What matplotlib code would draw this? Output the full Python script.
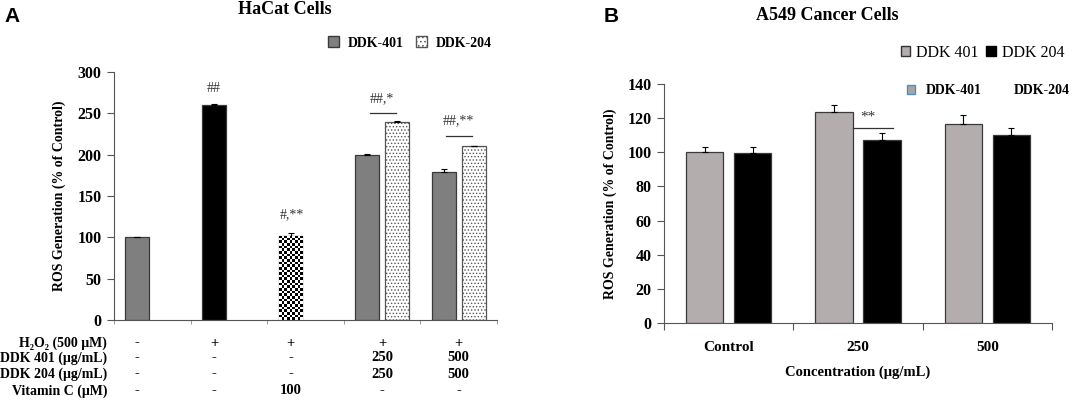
import numpy as np
import matplotlib
matplotlib.use("Agg")
import matplotlib.pyplot as plt
from matplotlib.patches import Patch

SERIF = ['Liberation Serif', 'DejaVu Serif']
plt.rcParams['font.family'] = SERIF
plt.rcParams['font.weight'] = 'bold'
plt.rcParams['hatch.linewidth'] = 0.6

# ---- Panel A data (HaCat cells) ----
single_names = ['Control', 'H2O2', 'Vitamin C']
single_vals = [100, 260, 102]
single_err = [0.6, 1.0, 3.0]
single_colors = ['#7f7f7f', '#000000', 'checker']

pair_names = ['250', '500']
ddk401_a = [200, 179]
ddk401_a_err = [1.0, 4.0]
ddk204_a = [240, 210]
ddk204_a_err = [1.0, 0.6]

row_labels = ['H\u2082O\u2082 (500 \u03bcM)', 'DDK 401 (\u03bcg/mL)',
              'DDK 204 (\u03bcg/mL)', 'Vitamin C (\u03bcM)']
row_values = [['-', '+', '+', '+', '+'],
              ['-', '-', '-', '250', '500'],
              ['-', '-', '-', '250', '500'],
              ['-', '-', '100', '-', '-']]

sig_a = ['##', '#,**', '##,*', '##,**']

# ---- Panel B data (A549 cells) ----
conc_b = ['Control', '250', '500']
ddk401_b = [100, 123.8, 116.4]
ddk401_b_err = [3.0, 4.0, 5.3]
ddk204_b = [99.6, 107.2, 110.3]
ddk204_b_err = [3.4, 4.3, 4.0]

W, H = 1072, 401
fig = plt.figure(figsize=(W / 100, H / 100), dpi=100)
axA = fig.add_axes([114 / W, 1 - 320 / H, 383 / W, 248 / H])
axB = fig.add_axes([664 / W, 1 - 323 / H, 388 / W, 239 / H])

edge = '#3a3a3a'
ekw = dict(ecolor='black', elinewidth=0.8, capsize=2.5, capthick=0.8)

# ---------- Panel A ----------
bw = 0.31
off = 0.195
xs_single = np.arange(len(single_vals)) + 0.5 - off
xs_pair = np.arange(len(pair_names)) + 3.5

axA.set_xlim(0, 5)
axA.set_ylim(0, 300)

checker_bar = None
for x, v, e, c in zip(xs_single, single_vals, single_err, single_colors):
    fc = 'white' if c == 'checker' else c
    b = axA.bar(x, v, bw, color=fc, edgecolor=edge, linewidth=0.9, zorder=2,
                yerr=[[0], [e]], error_kw=ekw)
    if c == 'checker':
        checker_bar = b.patches[0]

b401 = axA.bar(xs_pair - off, ddk401_a, bw, color='#7f7f7f', edgecolor=edge,
               linewidth=0.9, zorder=2, yerr=[[0] * 2, ddk401_a_err], error_kw=ekw)
b204 = axA.bar(xs_pair + off, ddk204_a, bw, color='white', edgecolor='#555555',
               hatch='.....', linewidth=0.9, zorder=2,
               yerr=[[0] * 2, ddk204_a_err], error_kw=ekw)

# checkerboard fill for the vitamin C bar
fig.canvas.draw()
bb = checker_bar.get_window_extent()
ncol = 9
nrow = int(round(bb.height / (bb.width / ncol)))
board = (np.indices((nrow, ncol)).sum(axis=0) % 2).astype(float)
x0, y0 = checker_bar.get_x(), checker_bar.get_y()
im = axA.imshow(board, cmap='gray', extent=[x0, x0 + checker_bar.get_width(),
                y0, y0 + checker_bar.get_height()], aspect='auto',
                interpolation='nearest', zorder=2.5)
im.set_clip_path(checker_bar)
axA.set_xlim(0, 5)
axA.set_ylim(0, 300)

for s in ['top', 'right']:
    axA.spines[s].set_visible(False)
for s in ['left', 'bottom']:
    axA.spines[s].set_color('#555555')
    axA.spines[s].set_linewidth(0.8)
axA.set_yticks(np.arange(0, 301, 50))
axA.tick_params(axis='y', labelsize=11.5, length=5, width=0.8, pad=4, color='#555555')
axA.set_xticks(np.arange(0, 6), minor=True)
axA.set_xticks([])
axA.tick_params(axis='x', which='minor', length=3, width=0.6, color='#888888')
axA.set_ylabel('ROS Generation (% of Control)', fontsize=10, fontweight='bold')
axA.yaxis.set_label_coords(-0.125, 0.5)

# significance marks
axA.text(xs_single[1], 280, sig_a[0], ha='center', va='center', fontsize=10,
         fontweight='normal', color='#333333')
axA.text(xs_single[2] + 0.02, 127, sig_a[1], ha='center', va='center', fontsize=10,
         fontweight='normal', color='#333333')
for gx, ly, ty, lab in zip(xs_pair, [250, 222.5], [268, 240.6], sig_a[2:]):
    axA.plot([gx - 0.16, gx + 0.175], [ly, ly], color='#333333', lw=0.9)
    axA.text(gx, ty, lab, ha='center', va='center', fontsize=10,
             fontweight='normal', color='#333333')

# treatment table below axis
tr = axA.get_xaxis_transform()
col_x = list(xs_single) + list(xs_pair)
for ry, lab, vals in zip([-0.093, -0.153, -0.218, -0.286], row_labels, row_values):
    axA.text(-0.018, ry, lab, transform=axA.transAxes, ha='right', va='center',
             fontsize=10, family=SERIF)
    for cx, v in zip(col_x, vals):
        axA.text(cx, ry, v, transform=tr, ha='center', va='center', fontsize=10.5)

legA = [Patch(facecolor='#7f7f7f', edgecolor=edge, label='DDK-401'),
        Patch(facecolor='white', edgecolor='#555555', hatch='....', label='DDK-204')]
fig.legend(handles=legA, loc='center', bbox_to_anchor=(410 / W, 1 - 43 / H),
           ncol=2, frameon=False, handlelength=0.8, handleheight=0.8,
           handletextpad=0.6, columnspacing=0.9,
           prop={'family': SERIF, 'weight': 'bold', 'size': 10})

fig.text(285 / W, 1 - 9 / H, 'HaCat Cells', ha='center', va='center', fontsize=13)
fig.text(12 / W, 1 - 16 / H, 'A', ha='center', va='center', fontsize=15,
         family='Liberation Sans', fontweight='bold')

# ---------- Panel B ----------
bwB = 0.287
offB = 0.186
xb = np.arange(len(conc_b)) + 0.5
axB.bar(xb - offB, ddk401_b, bwB, color='#b3adad', edgecolor=edge, linewidth=0.9,
        zorder=2, yerr=[[0] * 3, ddk401_b_err], error_kw=ekw)
axB.bar(xb + offB, ddk204_b, bwB, color='black', edgecolor=edge, linewidth=0.9,
        zorder=2, yerr=[[0] * 3, ddk204_b_err], error_kw=ekw)
axB.set_xlim(0, 3)
axB.set_ylim(0, 140)
for s in ['top', 'right']:
    axB.spines[s].set_visible(False)
for s in ['left', 'bottom']:
    axB.spines[s].set_color('#555555')
    axB.spines[s].set_linewidth(0.8)
axB.set_yticks(np.arange(0, 141, 20))
axB.tick_params(axis='y', labelsize=11.5, length=5, width=0.8, pad=4, color='#555555')
axB.set_xticks(xb)
axB.set_xticklabels(conc_b)
axB.tick_params(axis='x', which='major', length=0, labelsize=11, pad=13)
axB.set_xticks(np.arange(0, 4), minor=True)
axB.tick_params(axis='x', which='minor', length=5, width=0.8, color='#555555')
axB.set_ylabel('ROS Generation (% of Control)', fontsize=10, fontweight='bold')
axB.yaxis.set_label_coords(-0.121, 0.5)
axB.set_xlabel('Concentration (\u03bcg/mL)', fontsize=10.5, fontweight='bold')
axB.xaxis.set_label_coords(0.5, -0.176)

axB.plot([1.465, 1.77], [114.2, 114.2], color='#333333', lw=0.9)
axB.text(1.58, 120.7, '**', ha='center', va='center', fontsize=11,
         fontweight='normal', color='#333333')

legB1 = [Patch(facecolor='#b3adad', edgecolor='#333333', label='DDK 401'),
         Patch(facecolor='black', edgecolor='black', label='DDK 204')]
fig.legend(handles=legB1, loc='center right', bbox_to_anchor=(1064 / W, 1 - 53 / H),
           ncol=2, frameon=False, handlelength=0.6, handleheight=0.6,
           handletextpad=0.35, columnspacing=0.5, borderaxespad=0, borderpad=0,
           prop={'family': 'Liberation Serif', 'weight': 'normal', 'size': 11.5})
legB2 = [Patch(facecolor='#a6a6a6', edgecolor='#4f8fbf', label='DDK-401'),
         Patch(facecolor='none', edgecolor='none', label='DDK-204')]
fig.legend(handles=legB2, loc='center right', bbox_to_anchor=(1070 / W, 1 - 91 / H),
           ncol=2, frameon=False, handlelength=0.6, handleheight=0.6,
           handletextpad=0.8, columnspacing=0.9, borderaxespad=0, borderpad=0,
           prop={'family': SERIF, 'weight': 'bold', 'size': 10})

fig.text(827 / W, 1 - 15 / H, 'A549 Cancer Cells', ha='center', va='center', fontsize=13)
fig.text(611 / W, 1 - 16 / H, 'B', ha='center', va='center', fontsize=15,
         family='Liberation Sans', fontweight='bold')

fig.savefig('out.png', dpi=100)
